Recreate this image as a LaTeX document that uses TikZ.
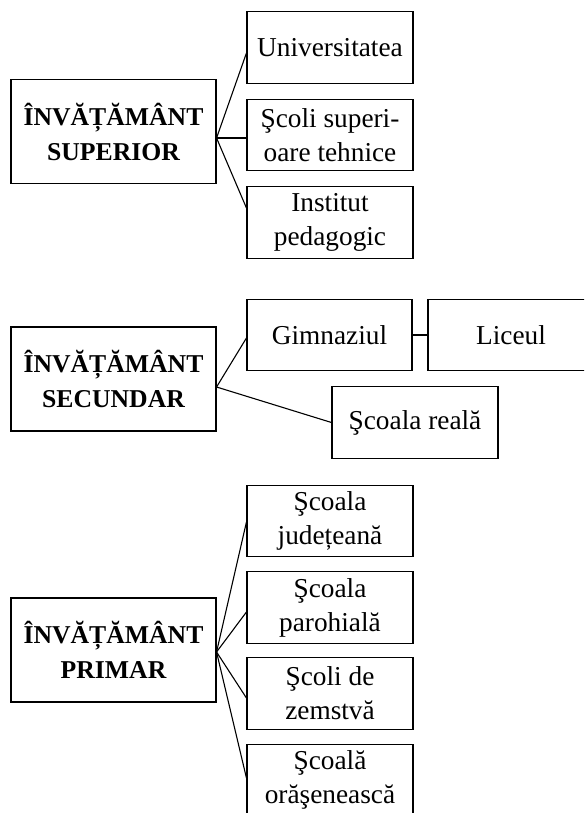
\documentclass[tikz,border=0pt]{standalone}
\usepackage{fontspec}
\setmainfont{Liberation Serif}
\begin{document}
\begin{tikzpicture}[x=1pt,y=-1pt,
  line width=1.1pt,
  headbox/.style={draw, rectangle, align=center, inner sep=0pt,
    minimum width=205pt, minimum height=104pt,
    font=\fontsize{25.7}{35}\selectfont\bfseries},
  leafbox/.style={draw, rectangle, align=center, inner sep=0pt,
    minimum width=166pt, minimum height=71.5pt,
    font=\fontsize{27.3}{34}\selectfont},
  link/.style={draw, line width=1.1pt}]
\useasboundingbox (0,0) rectangle (584,813);
\clip (0,0) rectangle (584,813);

% --- superior ---
\node[headbox] (sup) at (113.5,131.5) {ÎNVĂȚĂMÂNT\\SUPERIOR};
\node[leafbox] (u1) at (330,47.5) {Universitatea};
\node[leafbox] (u2) at (330,135) {Şcoli superi-\\oare tehnice};
\node[leafbox] (u3) at (330,222.5) {Institut\\pedagogic};
\coordinate (sj) at ([yshift=-6.5pt]sup.east);
\draw[link] (sj) -- ([yshift=-5.5pt]u1.west);
\draw[link] (sj) -- ([yshift=-3pt]u2.west);
\draw[link] (sj) -- ([yshift=14.5pt]u3.west);

% --- secundar ---
\node[headbox] (sec) at (113.5,379) {ÎNVĂȚĂMÂNT\\SECUNDAR};
\node[leafbox, minimum width=165pt] (gim) at (329.5,335) {Gimnaziul};
\node[leafbox] (lic) at (511,335) {Liceul};
\node[leafbox] (real) at (415,422.5) {Şcoala reală};
\coordinate (ej) at ([yshift=-8pt]sec.east);
\draw[link] (ej) -- ([yshift=-3pt]gim.west);
\draw[link] (ej) -- (real.west);
\draw[link] (gim.east) -- (lic.west);

% --- primar ---
\node[headbox] (pri) at (113.5,650) {ÎNVĂȚĂMÂNT\\PRIMAR};
\node[leafbox] (p1) at (330,521) {Şcoala\\județeană};
\node[leafbox] (p2) at (330,607.5) {Şcoala\\parohială};
\node[leafbox] (p3) at (330,693.5) {Şcoli de\\zemstvă};
\node[leafbox] (p4) at (330,780) {Şcoală\\orăşenească};
\coordinate (pj) at ([yshift=-2pt]pri.east);
\draw[link] (pj) -- ([yshift=-1pt]p1.west);
\draw[link] (pj) -- ([yshift=-4.5pt]p2.west);
\draw[link] (pj) -- ([yshift=-4.5pt]p3.west);
\draw[link] (pj) -- ([yshift=2pt]p4.west);
\end{tikzpicture}
\end{document}
